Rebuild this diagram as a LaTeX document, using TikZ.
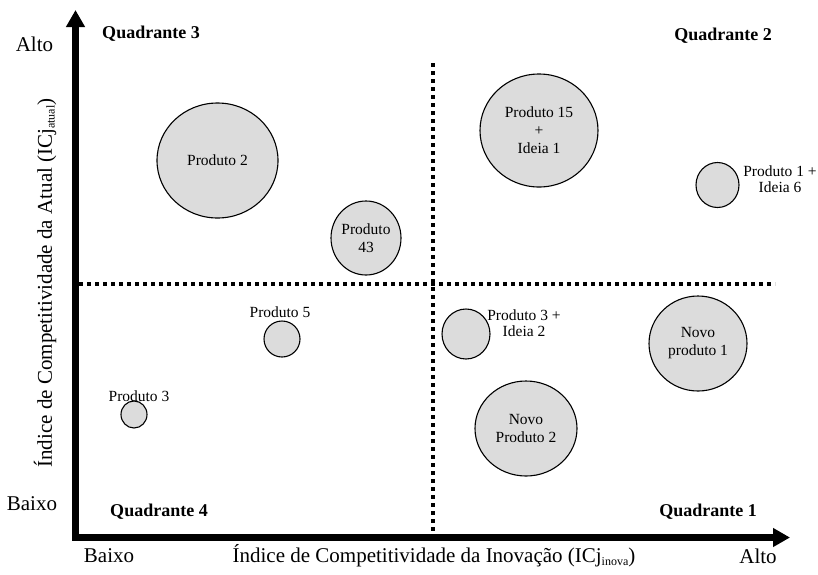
\documentclass[tikz,border=0pt]{standalone}
\usepackage{fontspec}
\setmainfont{Liberation Serif}
\usetikzlibrary{arrows.meta, positioning, shapes.geometric}

\definecolor{bubblegray}{RGB}{220,220,220}
\newcommand{\idxsub}[1]{\raisebox{-0.3ex}{\fontsize{12}{12}\selectfont #1}}

\tikzset{
  bubble/.style={ellipse, draw, line width=1.1pt, fill=bubblegray, inner sep=0pt,
    align=center, font=\fontsize{15.5}{18}\selectfont},
  axisline/.style={line width=6.5pt, -{Triangle[length=17pt, width=18pt]}},
  divider/.style={line width=4pt, dash pattern=on 4pt off 4pt},
  quadlabel/.style={font=\bfseries\fontsize{18}{20}\selectfont},
  axislabel/.style={font=\fontsize{21}{24}\selectfont},
  smalllabel/.style={align=center, inner sep=0pt, font=\fontsize{15.5}{16}\selectfont}
}

\begin{document}
\begin{tikzpicture}[x=1pt, y=-1pt]
      \useasboundingbox (0,0) rectangle (818,574);

      % Axes
      \coordinate (origin) at (75.5,537.5);
      \coordinate (ytip) at (75.5,10);
      \coordinate (xtip) at (790,537.5);
      \draw[axisline] (origin) -- (ytip);
      \draw[axisline] (origin) -- (xtip);
      \fill (72.25,534.25) rectangle (78.75,540.75);

      % Quadrant dividers
      \coordinate (hleft) at (79,284);
      \coordinate (hright) at (775,284);
      \coordinate (vtop) at (432.5,63);
      \coordinate (vbottom) at (432.5,534);
      \draw[divider] (hleft) -- (hright);
      \draw[divider] (vtop) -- (vbottom);

      % Axis labels
      \node[axislabel] (yhigh) at (34.5,44) {Alto};
      \node[axislabel] (ylow) at (32,504) {Baixo};
      \node[axislabel] (xlow) at (109,556) {Baixo};
      \node[axislabel] (xhigh) at (758,556) {Alto};
      \node[axislabel] (xtitle) at (434,556) {Índice de Competitividade da Inovação (ICj\idxsub{inova})};
      \node[axislabel, rotate=90] (ytitle) at (45,283) {Índice de Competitividade da Atual (ICj\idxsub{atual})};

      % Quadrant names
      \node[quadlabel] (q3) at (151,34) {Quadrante 3};
      \node[quadlabel] (q2) at (723,36) {Quadrante 2};
      \node[quadlabel] (q4) at (159,512) {Quadrante 4};
      \node[quadlabel] (q1) at (708,512) {Quadrante 1};

      % Bubbles
      \node[bubble, minimum width=121pt, minimum height=115pt] (prod2) at (217.5,160.5) {Produto 2};
      \node[bubble, minimum width=70pt, minimum height=74pt] (prod43) at (366,238) {Produto\\43};
      \node[bubble, minimum width=118pt, minimum height=113pt] (prod15) at (539,130.5) {Produto 15\\+\\Ideia 1};
      \node[bubble, minimum width=43pt, minimum height=45pt] (prod1) at (717.5,185) {};
      \node[bubble, minimum width=36pt, minimum height=36pt] (prod5) at (282,339) {};
      \node[bubble, minimum width=26pt, minimum height=27pt] (prod3) at (134,414.5) {};
      \node[bubble, minimum width=48pt, minimum height=50pt] (prod3i) at (466,334) {};
      \node[bubble, minimum width=98pt, minimum height=95pt] (novo1) at (698,343.5) {Novo\\produto 1};
      \node[bubble, minimum width=102pt, minimum height=95pt] (novo2) at (526,428.5) {Novo\\Produto 2};

      % Labels beside the small bubbles
      \node[smalllabel] (prod1lbl) at (780,179) {Produto 1 +\\Ideia 6};
      \node[smalllabel] (prod5lbl) at (280,312) {Produto 5};
      \node[smalllabel] (prod3lbl) at (139,396) {Produto 3};
      \node[smalllabel] (prod3ilbl) at (524,323) {Produto 3 +\\Ideia 2};
    \end{tikzpicture}
\end{document}
